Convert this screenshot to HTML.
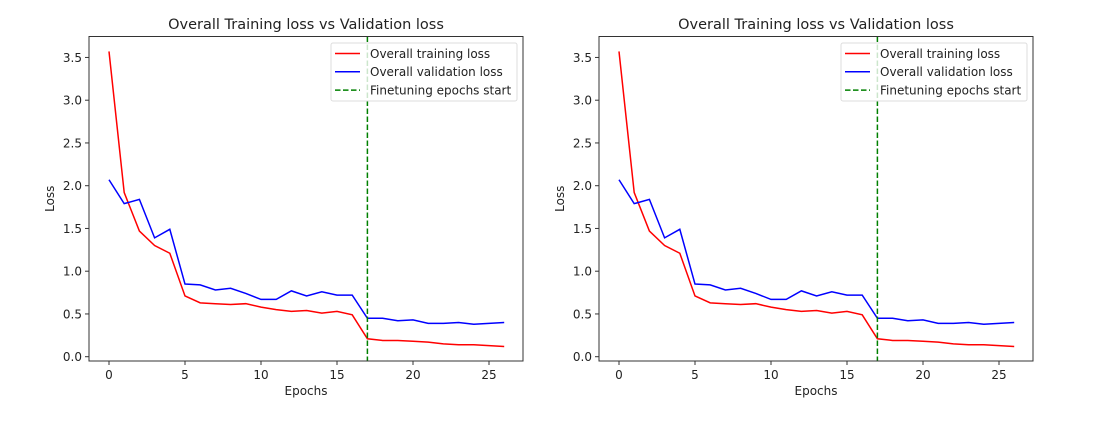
<!DOCTYPE html>
<html><head><meta charset="utf-8">
<style>
html,body{margin:0;padding:0;background:#fff;}
svg{display:block;font-family:"DejaVu Sans","Liberation Sans",sans-serif;}
</style></head>
<body>
<svg id="chart" width="1115" height="421" viewBox="0 0 1115 421" xmlns="http://www.w3.org/2000/svg"></svg>
<script>
const epochs = [0,1,2,3,4,5,6,7,8,9,10,11,12,13,14,15,16,17,18,19,20,21,22,23,24,25,26];
const trainLoss = [3.57,1.92,1.47,1.30,1.21,0.71,0.63,0.62,0.61,0.62,0.58,0.55,0.53,0.54,0.51,0.53,0.49,0.21,0.19,0.19,0.18,0.17,0.15,0.14,0.14,0.13,0.12];
const valLoss = [2.07,1.79,1.84,1.39,1.49,0.85,0.84,0.78,0.80,0.74,0.67,0.67,0.77,0.71,0.76,0.72,0.72,0.45,0.45,0.42,0.43,0.39,0.39,0.40,0.38,0.39,0.40];
const finetuneStart = 17;
const xTicks = [0,5,10,15,20,25];
const yTicks = [0.0,0.5,1.0,1.5,2.0,2.5,3.0,3.5];
const legendLabels = ["Overall training loss","Overall validation loss","Finetuning epochs start"];

const NS = "http://www.w3.org/2000/svg";
const svg = document.getElementById('chart');
function mk(tag, attrs, parent){
  const e = document.createElementNS(NS, tag);
  for (const k in attrs) e.setAttribute(k, attrs[k]);
  (parent||svg).appendChild(e);
  return e;
}

function panel(off, idx){
  const g = mk('g', {});
  
  
  const L = 89+off, R = 523+off, T = 36.5, B = 361;
  const xs = v => 109 + off + v*15.2;
  const ys = v => 356.7 - v*85.5;

  const title = mk('text', {x:(L+R)/2, y:29, 'text-anchor':'middle', 'font-size':'14.5', fill:'#222'}, g);
  title.textContent = 'Overall Training loss vs Validation loss';
  
  

  xTicks.forEach(t => {
    const x = xs(t);
    const tk = mk('line', {x1:x, x2:x, y1:B, y2:B+4, stroke:'#333', 'stroke-width':1}, g);
    
    
    const lb = mk('text', {x:x, y:B+18, 'text-anchor':'middle', 'font-size':'12', fill:'#222'}, g);
    lb.textContent = t;
    
    
  });
  yTicks.forEach(t => {
    const y = ys(t);
    const tk = mk('line', {x1:L-4, x2:L, y1:y, y2:y, stroke:'#333', 'stroke-width':1}, g);
    
    
    const lb = mk('text', {x:L-7, y:y+4.3, 'text-anchor':'end', 'font-size':'12', fill:'#222'}, g);
    lb.textContent = t.toFixed(1);
    
    
  });
  const xt = mk('text', {x:(L+R)/2, y:395, 'text-anchor':'middle', 'font-size':'12', fill:'#222'}, g);
  xt.textContent = 'Epochs';
  
  
  const yt = mk('text', {x:0, y:0, 'text-anchor':'middle', 'font-size':'12', fill:'#222', transform:`translate(${54+off},${(T+B)/2}) rotate(-90)`}, g);
  yt.textContent = 'Loss';
  
  

  const tr = mk('polyline', {points: epochs.map((e,i)=>xs(e)+','+ys(trainLoss[i])).join(' '), fill:'none', stroke:'#ff0000', 'stroke-width':1.5}, g);
  
  
  const va = mk('polyline', {points: epochs.map((e,i)=>xs(e)+','+ys(valLoss[i])).join(' '), fill:'none', stroke:'#0000ff', 'stroke-width':1.5}, g);
  
  
  const vl = mk('line', {x1:xs(finetuneStart), x2:xs(finetuneStart), y1:T, y2:B, stroke:'#008000', 'stroke-width':1.5, 'stroke-dasharray':'5.5,2.5'}, g);
  
  

  const frame = mk('rect', {x:L, y:T, width:R-L, height:B-T, fill:'none', stroke:'#333', 'stroke-width':1}, g);
  
  

  const lg = mk('g', {}, g);
  
  
  mk('rect', {x:331+off, y:43, width:186, height:58, rx:2, fill:'#fff', 'fill-opacity':0.8, stroke:'#ddd', 'stroke-width':1}, lg);
  const cols = ['#ff0000','#0000ff','#008000'];
  legendLabels.forEach((lab,i) => {
    const y = 53.5 + i*18.3;
    const ln = mk('line', {x1:335+off, x2:360+off, y1:y, y2:y, stroke:cols[i], 'stroke-width':1.5}, lg);
    if (i===2) ln.setAttribute('stroke-dasharray','5.5,2.5');
    
    
    const tx = mk('text', {x:370+off, y:y+4.3, 'font-size':'12', fill:'#222'}, lg);
    tx.textContent = lab;
    
    
  });
}
panel(0, 'left');
panel(510, 'right');
</script>
</body></html>
